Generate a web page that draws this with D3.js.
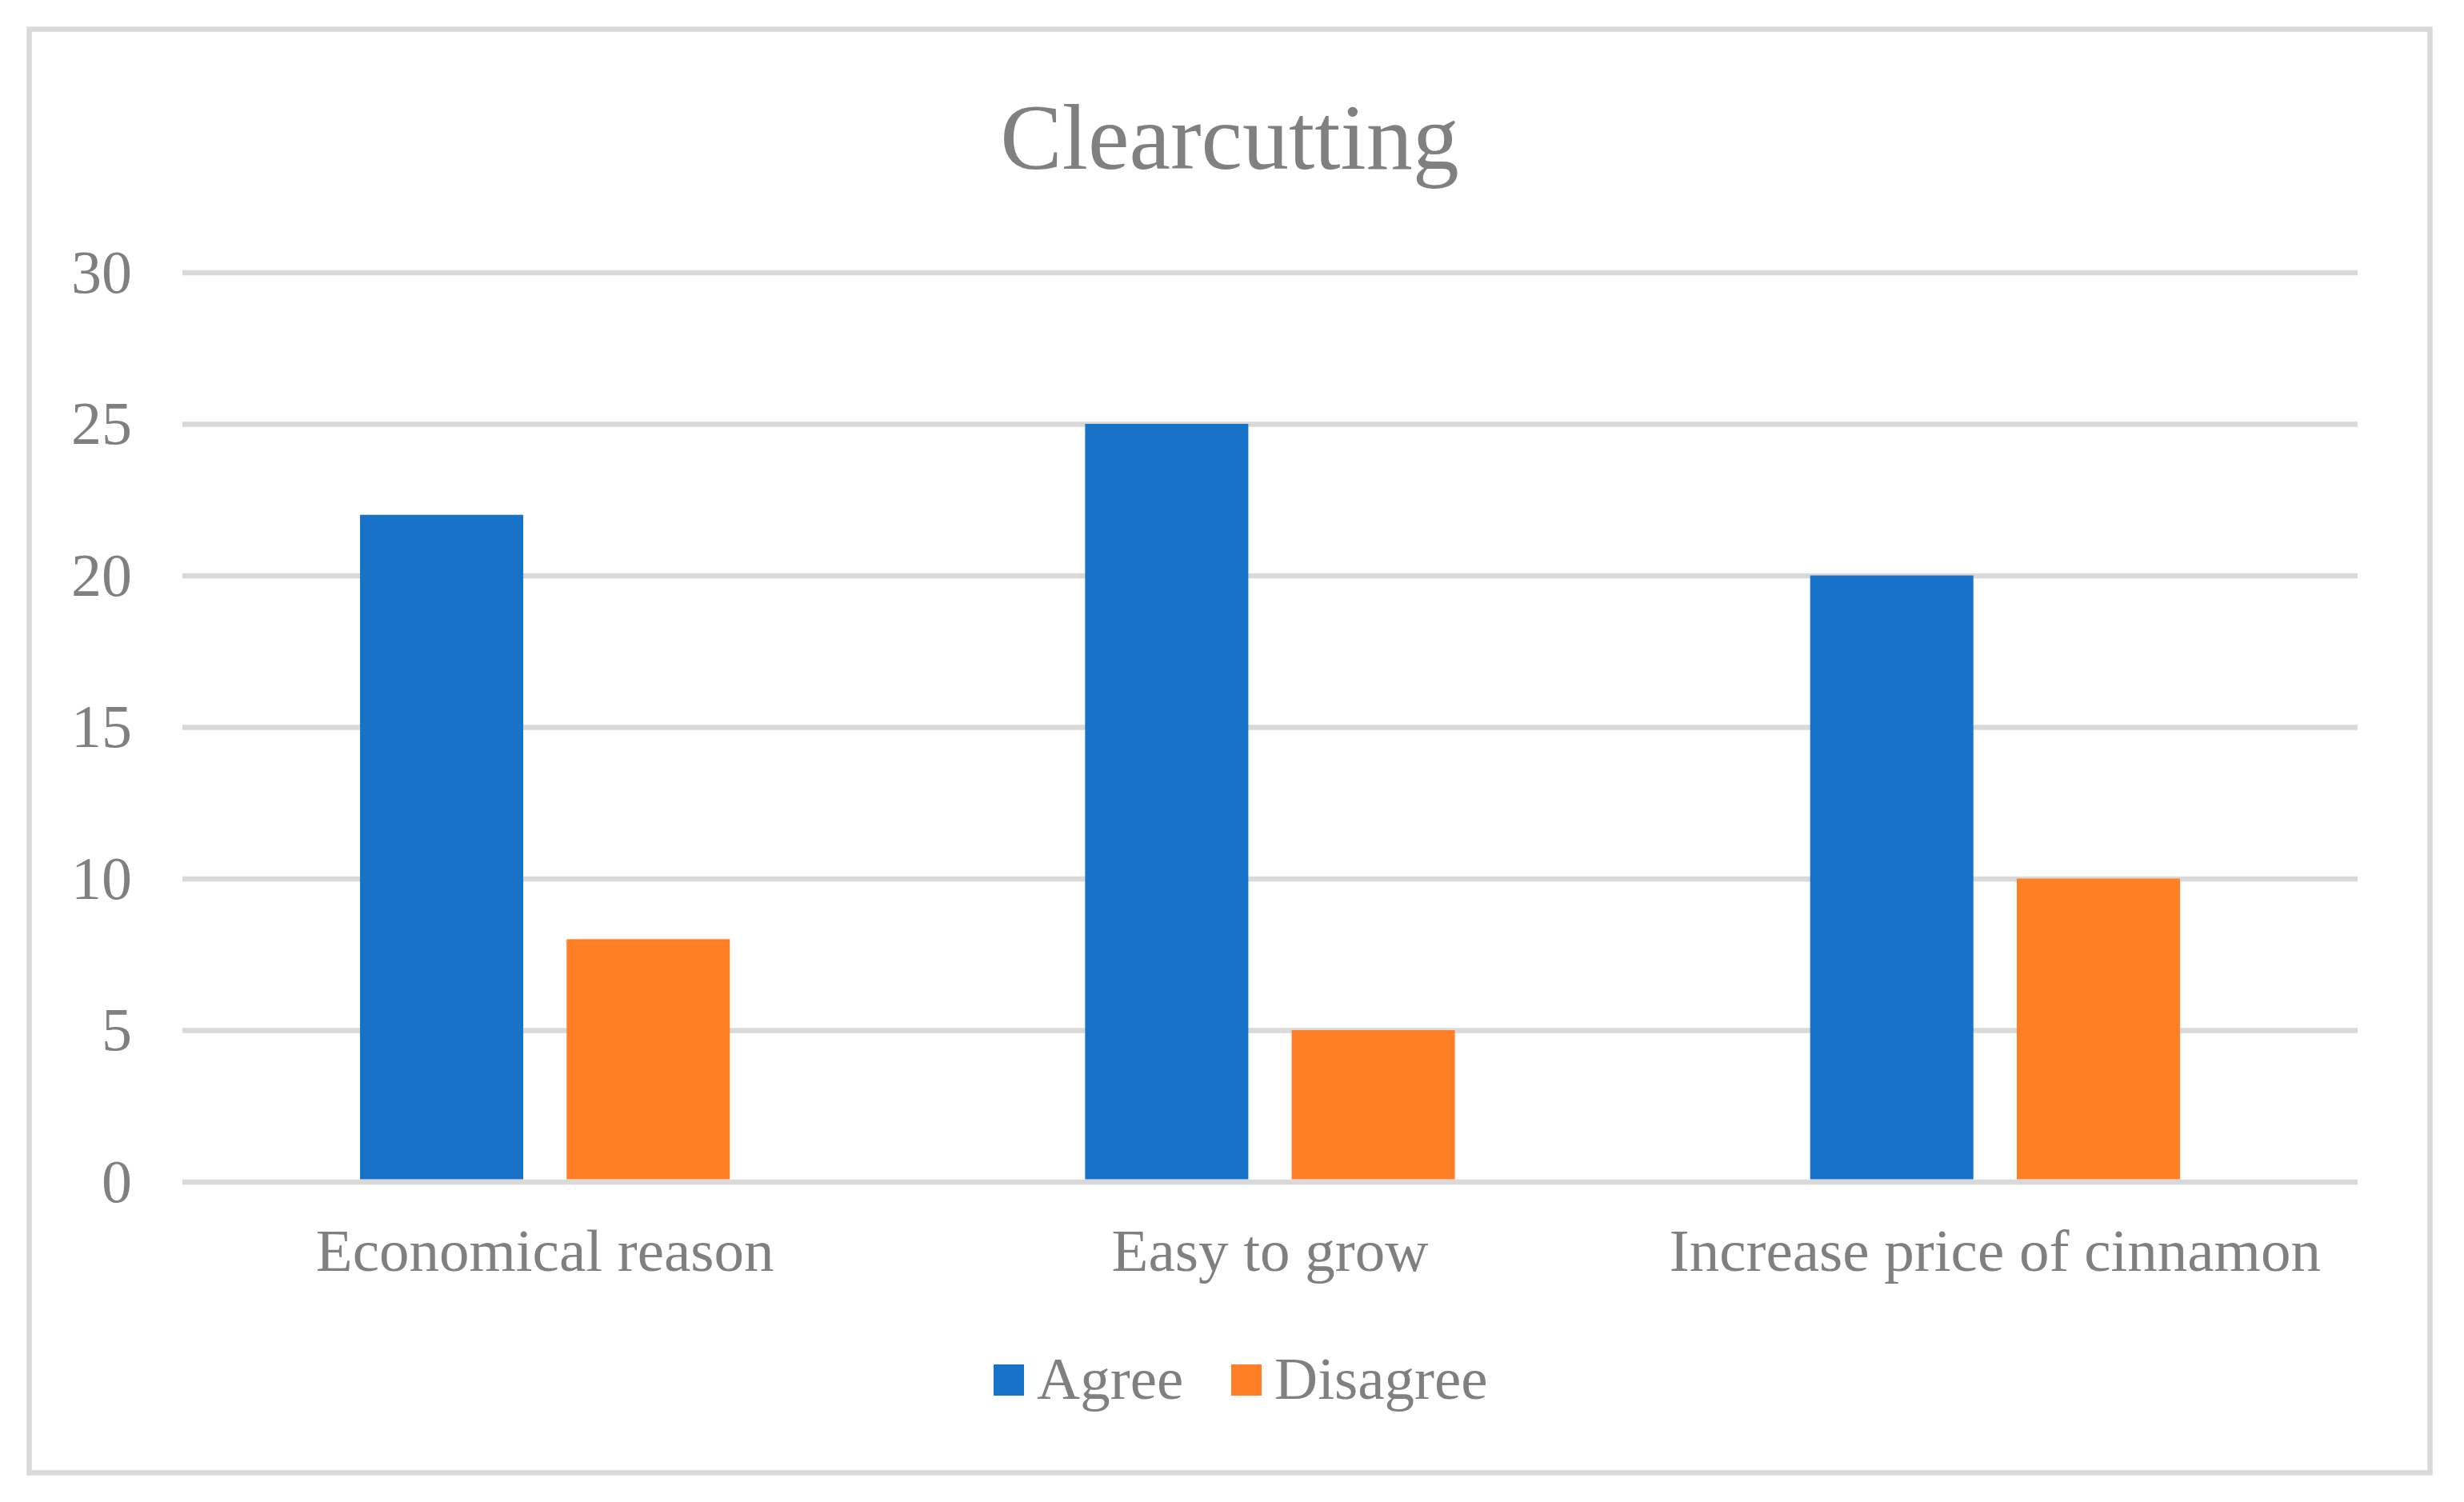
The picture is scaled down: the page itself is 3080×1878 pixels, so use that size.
<!DOCTYPE html>
<html>
<head>
<meta charset="utf-8">
<script src="https://cdn.jsdelivr.net/npm/d3@7"></script>
<style>
  html, body { margin: 0; padding: 0; background: #fff; }
  svg { display: block; }
  text { font-family: "Liberation Serif", "Times New Roman", serif; fill: #808080; }
</style>
</head>
<body>
<svg id="chart" width="3080" height="1878"></svg>
<script>
const title = "Clearcutting";
const categories = ["Economical reason", "Easy to grow", "Increase price of cinnamon"];
const seriesNames = ["Agree", "Disagree"];
const agree = [22, 25, 20];
const disagree = [8, 5, 10];
const yTicks = [0, 5, 10, 15, 20, 25, 30];
const colors = ["#1873C8", "#FF7F27"];

const W = 3080, H = 1878;
const svg = d3.select("#chart");

svg.append("rect")
  .attr("x", 36.5).attr("y", 36.5)
  .attr("width", 3001).attr("height", 1805)
  .attr("fill", "#fff").attr("stroke", "#D9D9D9").attr("stroke-width", 6.5);

const plotLeft = 228, plotRight = 2947, plotTop = 340.5, plotBottom = 1477.5;

const y = d3.scaleLinear().domain([0, 30]).range([plotBottom, plotTop]);
const x0 = d3.scaleBand().domain(categories).range([plotLeft, plotRight]);
const bw = x0.bandwidth();
const x1 = d3.scaleBand().domain(seriesNames)
  .range([bw * 0.245, bw * 0.755]).paddingInner(0.21);

// gridlines
const yAxis = d3.axisLeft(y).tickValues(yTicks).tickSize(-(plotRight - plotLeft)).tickFormat("");
const gGrid = svg.append("g").attr("transform", `translate(${plotLeft},0)`).call(yAxis);
gGrid.select(".domain").remove();
gGrid.selectAll(".tick line").attr("stroke", "#D9D9D9").attr("stroke-width", 6.5);

// y tick labels
svg.append("g").selectAll("text").data(yTicks).join("text")
  .attr("x", 165)
  .attr("y", d => y(d) + 25)
  .attr("text-anchor", "end")
  .attr("font-size", 76)
  .text(d => d);

// bars
const data = categories.map((c, i) => ({ cat: c, values: [agree[i], disagree[i]] }));
const groups = svg.append("g").selectAll("g").data(data).join("g")
  .attr("transform", d => `translate(${x0(d.cat)},0)`);
groups.selectAll("rect").data(d => d.values.map((v, j) => ({ s: seriesNames[j], v, j })))
  .join("rect")
  .attr("x", d => x1(d.s))
  .attr("width", x1.bandwidth())
  .attr("y", d => y(d.v))
  .attr("height", d => plotBottom - 3 - y(d.v))
  .attr("fill", d => colors[d.j]);

// category labels
svg.append("g").selectAll("text").data(categories).join("text")
  .attr("x", d => x0(d) + bw / 2)
  .attr("y", 1589)
  .attr("text-anchor", "middle")
  .attr("font-size", 75)
  .text(d => d);

// title
svg.append("text")
  .attr("x", 1537).attr("y", 211)
  .attr("text-anchor", "middle")
  .attr("font-size", 116)
  .text(title);

// legend
const legendX = [1242, 1539];
const leg = svg.append("g").selectAll("g").data(seriesNames).join("g")
  .attr("transform", (d, i) => `translate(${legendX[i]},0)`);
leg.append("rect").attr("x", 0).attr("y", 1706).attr("width", 38).attr("height", 39)
  .attr("fill", (d, i) => colors[i]);
leg.append("text").attr("x", 54).attr("y", 1749).attr("font-size", 75).text(d => d);
</script>
</body>
</html>
